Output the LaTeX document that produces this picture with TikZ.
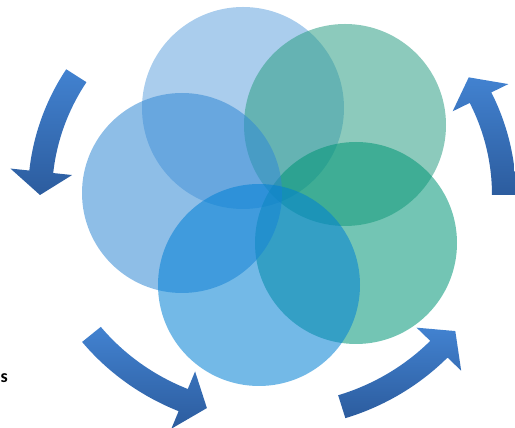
\documentclass[tikz,border=0pt]{standalone}
\usepackage{fontspec}
\setmainfont{Carlito}
\definecolor{cA}{RGB}{100,164,222}
\definecolor{cB}{RGB}{46,159,133}
\definecolor{cC}{RGB}{50,137,212}
\definecolor{cD}{RGB}{0,128,212}
\definecolor{cE}{RGB}{0,150,118}
\definecolor{arTop}{RGB}{66,130,208}
\definecolor{arBot}{RGB}{44,92,158}
\tikzset{
  petal/.style={fill=#1, draw=none, fill opacity=0.55},
  ringarrow/.style={top color=arTop, bottom color=arBot, draw=none},
}
\newcommand\ringArrow[4]{% name, start angle, head base angle, tip angle
  \path[ringarrow] ([shift={(O)}]#2:244 and 234) coordinate (#1-s)
    arc[start angle=#2, end angle=#3, x radius=244, y radius=234]
    -- ([shift={(O)}]#3:263 and 253)
    -- ([shift={(O)}]#4:232 and 222) coordinate (#1-t)
    -- ([shift={(O)}]#3:201 and 191)
    -- ([shift={(O)}]#3:220 and 210)
    arc[start angle=#3, end angle=#2, x radius=220, y radius=210]
    -- cycle;}
\begin{document}
\begin{tikzpicture}[x=1pt,y=1pt]
\useasboundingbox (0,0) rectangle (515,428);
\coordinate (O) at (272,233);
% circles
\path[petal=cA] (243,320) circle[radius=101];
\path[petal=cB] (345,303) circle[radius=101];
\path[petal=cE] (356,185) circle[radius=101];
\path[petal=cC] (182,235) circle[radius=100];
\path[petal=cD] (259,143) circle[radius=101];
% arrows
\ringArrow{aL}{147.5}{174}{180}
\ringArrow{aBL}{218.9}{247.5}{253.7}
\ringArrow{aBR}{287.5}{316}{322.2}
\ringArrow{aR}{0}{26}{32}
% text
\node[anchor=base west, inner sep=0pt, font=\fontsize{18}{20}\selectfont\bfseries] (lbl) at (0.5,45.5) {s};
\end{tikzpicture}
\end{document}
